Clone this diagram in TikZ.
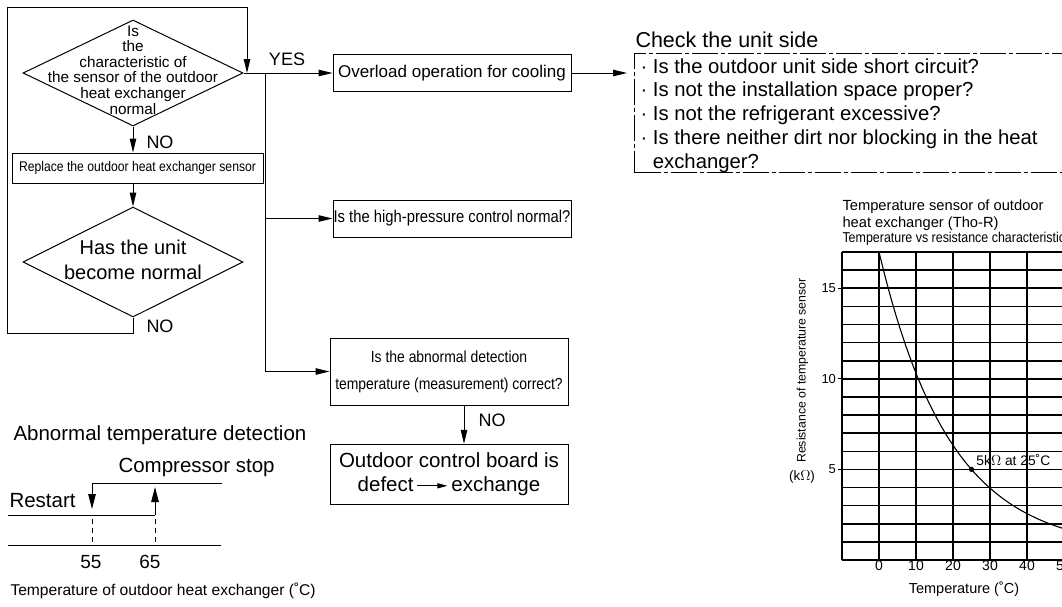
\documentclass[tikz,border=0pt]{standalone}
\usepackage{fontspec}
\setmainfont{Liberation Sans}
\newfontfamily\condfont[FakeStretch=0.87]{Liberation Sans}
\usetikzlibrary{shapes.geometric,arrows.meta}
\newcommand{\myfs}[2]{\fontsize{#1}{#2}\selectfont}
\begin{document}
\begin{tikzpicture}[x=1pt,y=-1pt,line width=1pt,
  box/.style={draw,inner sep=0pt,align=center},
  dia/.style={draw,diamond,inner sep=0pt,minimum width=220pt,minimum height=106pt},
  lbl/.style={inner sep=0pt},
  arr/.style={-{Triangle[length=14pt,width=6.5pt]}},
  bigarr/.style={-{Triangle[length=15pt,width=7.5pt]}},
  gridline/.style={line width=1.6pt},
  chkbox/.style={draw,dash pattern=on 26pt off 3pt on 4pt off 3pt,inner sep=0pt},
  dashline/.style={dash pattern=on 5pt off 4pt}]
\useasboundingbox (0,0) rectangle (1062,606);
\clip (0,0) rectangle (1062,606);

% ---------- flowchart ----------
\node[dia] (d1) at (133,73) {};
\node[lbl,align=center,font=\myfs{15.3}{15.6}] (d1t) at (133,70) {Is\\the\\characteristic of\\the sensor of the outdoor\\heat exchanger\\normal};
\node[box,minimum width=251pt,minimum height=30pt,font=\condfont\myfs{14}{16}] (rep) at (137.5,168) {Replace the outdoor heat exchanger sensor};
\node[dia,minimum height=110pt] (d2) at (133,262) {};
\node[lbl,align=center,font=\myfs{20}{25}] (d2t) at (133,260) {Has the unit\\become normal};
\node[lbl,font=\myfs{18}{18}] (no1) at (160,142) {NO};
\node[lbl,font=\myfs{18}{18}] (no2) at (160,326) {NO};
\node[lbl,font=\myfs{18}{18}] (yes) at (287,59) {YES};

\node[box,minimum width=238pt,minimum height=37pt,font=\myfs{17}{17}] (ovl) at (452,73) {Overload operation for cooling};
\node[box,minimum width=238pt,minimum height=37pt,font=\condfont\myfs{17}{17}] (hp) at (452,218.5) {Is the high-pressure control normal?};
\node[box,minimum width=238pt,minimum height=67pt,font=\condfont\myfs{16}{27}] (abn) at (449,371.5) {Is the abnormal detection\\temperature (measurement) correct?};
\node[lbl,font=\myfs{18}{18}] (no3) at (492,420) {NO};
\node[box,minimum width=238pt,minimum height=60pt,font=\myfs{20.5}{24}] (outd) at (449,474) {Outdoor control board is\\defect\,\tikz[baseline=-5.5pt]\draw[line width=1pt,-{Triangle[length=10pt,width=5pt]}] (0pt,0pt) -- (30pt,0pt);\,exchange};

\coordinate (lb) at (7,333);
\coordinate (lt) at (7,7);
\coordinate (j1) at (247,73);
\coordinate (br) at (265,73);

\draw[arr] (d1.south) -- (d1.south |- rep.north);
\draw[arr] (d2.north |- rep.south) -- (d2.north);
\draw (d2.south) -- (d2.south |- lb) -- (lb) -- (lt) -- (lt -| j1);
\draw[arr] (lt -| j1) -- (j1);
\draw[arr] (d1.east) -- (ovl.west);
\draw (br) -- (br |- abn.west);
\draw[arr] (br |- hp.west) -- (hp.west);
\draw[arr] (br |- abn.west) -- (abn.west);
\draw[arr] ([xshift=15pt]abn.south) -- ([xshift=15pt]outd.north);

% ---------- check list ----------
\node[lbl,anchor=base west,font=\myfs{21.5}{21.5}] (chkt) at (635,47) {Check the unit side};
\node[chkbox,minimum width=450pt,minimum height=119pt,anchor=north west] (chk) at (634,53) {};
\node[lbl,anchor=north west,align=left,font=\myfs{20.3}{23.7}] (list) at (640,58) {· Is the outdoor unit side short circuit?\\· Is not the installation space proper?\\· Is not the refrigerant excessive?\\· Is there neither dirt nor blocking in the heat\\\hphantom{· }exchanger?};
\draw[arr,shorten >=7pt] (ovl.east) -- (ovl.east -| chk.west);

% ---------- hysteresis ----------
\node[lbl,anchor=base west,font=\myfs{20.5}{20.5}] (abt) at (13,440) {Abnormal temperature detection};
\node[lbl,anchor=base west,font=\myfs{20.5}{20.5}] (cs) at (118,472) {Compressor stop};
\node[lbl,anchor=base west,font=\myfs{20.5}{20.5}] (rs) at (9,507) {Restart};
\node[lbl,anchor=base,font=\myfs{19}{19}] (t55) at (91,568) {55};
\node[lbl,anchor=base,font=\myfs{19}{19}] (t65) at (150,568) {65};
\node[lbl,anchor=base west,font=\myfs{15.6}{15.6}] (tax) at (10,595) {Temperature of outdoor heat exchanger (˚C)};
\coordinate (h1) at (92,483);
\coordinate (h2) at (222,483);
\coordinate (h3) at (92,509);
\coordinate (l1) at (8,515);
\coordinate (l2) at (155,515);
\coordinate (l3) at (155,487);
\coordinate (a1) at (8,545);
\coordinate (a2) at (221,545);
\draw (h2) -- (h1);
\draw[bigarr] (h1) -- (h3);
\draw (l1) -- (l2);
\draw[bigarr] (l2) -- (l3);
\draw[dashline] (92,519) -- (92,544);
\draw[dashline] (155,519) -- (155,544);
\draw (a1) -- (a2);

% ---------- graph ----------
\node[lbl,anchor=base west,font=\myfs{14.7}{14.7}] (g1) at (842,210.7) {Temperature sensor of outdoor};
\node[lbl,anchor=base west,font=\myfs{14.7}{14.7}] (g2) at (842,227.3) {heat exchanger (Tho-R)};
\node[lbl,anchor=base west,font=\condfont\myfs{14.3}{14.3}] (g3) at (842,242.3) {Temperature vs resistance characteristic};
\node[lbl,rotate=90,font=\myfs{12.3}{12.3}] (gy) at (802.5,370.5) {Resistance of temperature sensor};
\node[lbl,font=\myfs{13.5}{13.5}] (gk) at (802,477) {(k$\Omega$)};
\node[lbl,anchor=base,font=\myfs{14.5}{14.5}] (gx) at (964,593) {Temperature (˚C)};
\begin{scope}[shift={(879pt,-560pt)},x=3.7pt,y=18.118pt]
  \foreach \t in {-10,0,...,50} \draw[gridline] (\t,0) -- (\t,17);
  \foreach \r in {0,...,17} \draw[gridline] (-10,\r) -- (60,\r);
  \foreach \r in {5,10,15} {
    \draw (-11.2,\r) -- (-10,\r);
    \node[lbl,anchor=east,font=\myfs{13}{13}] at (-11.5,\r) {\r};
  }
  \foreach \t in {0,10,...,50}
    \node[lbl,anchor=base,font=\myfs{14}{14}] at (\t,-0.58) {\t};
  \draw[line width=1.1pt] plot[smooth,domain=0:58,samples=40] (\x,{0.5+16.5*exp(-0.052*\x)});
  \coordinate (pt) at (25,5);
  \fill (pt) circle[radius=2.6pt];
  \node[lbl,anchor=base west,font=\myfs{13.8}{13.8}] (ptl) at (26.2,5.2) {5k$\Omega$ at 25˚C};
\end{scope}
\end{tikzpicture}
\end{document}
